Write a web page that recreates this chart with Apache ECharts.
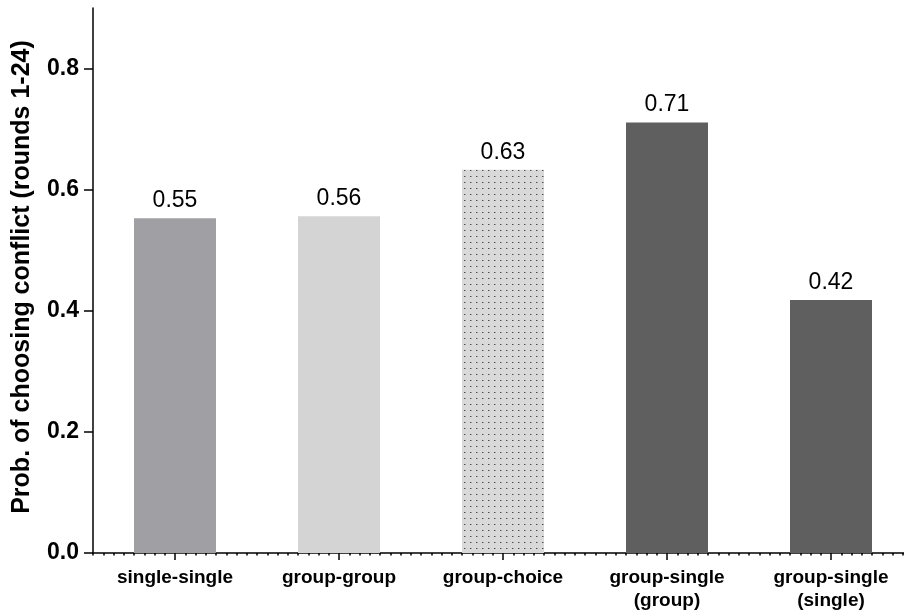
<!DOCTYPE html>
<html><head><meta charset="utf-8">
<script src="https://cdn.jsdelivr.net/npm/echarts@6/dist/echarts.min.js"></script>
<style>html,body{margin:0;padding:0;background:#fff;overflow:hidden}#c{width:914px;height:613px}</style>
</head><body><div id="c"></div>
<script>
const categories = ['single-single', 'group-group', 'group-choice', 'group-single\n(group)', 'group-single\n(single)'];
const values = [0.553, 0.556, 0.633, 0.711, 0.418];
const yTicks = [0, 0.2, 0.4, 0.6, 0.8];
const yAxisTitle = 'Prob. of choosing conflict (rounds 1-24)';

const pc = document.createElement('canvas');
pc.width = 6; pc.height = 6;
const g = pc.getContext('2d');
g.fillStyle = '#d9d9d9'; g.fillRect(0, 0, 6, 6);
g.fillStyle = '#4a4a4a'; g.fillRect(2, 2, 1, 1);
g.fillStyle = '#9a9a9a'; g.fillRect(3, 2, 1, 1);

const colors = ['#a09fa4', '#d4d4d4', {image: pc, repeat: 'repeat'}, '#5f5f5f', '#5f5f5f'];
const FONT = '"Liberation Sans", Arial, sans-serif';

const chart = echarts.init(document.getElementById('c'), null, {renderer: 'canvas'});
chart.setOption({
  animation: false,
  grid: {left: 93, right: 1, top: 8, bottom: 60, containLabel: false},
  xAxis: [{
    type: 'category', data: categories,
    axisLine: {show: true, lineStyle: {color: '#000', width: 1.5}},
    axisTick: {show: true, alignWithLabel: true, length: 7, lineStyle: {color: '#000', width: 1.5}},
    axisLabel: {color: '#000', fontFamily: FONT, fontWeight: 'bold', fontSize: 19, lineHeight: 23, margin: 13, interval: 0}
  }, {
    type: 'value', min: 0, max: 80, interval: 1, position: 'bottom',
    axisLine: {show: false}, splitLine: {show: false}, axisLabel: {show: false},
    axisTick: {show: true, length: 2.5, lineStyle: {color: '#000', width: 1.5}}
  }],
  yAxis: {
    type: 'value', min: 0, max: 0.9,
    name: yAxisTitle, nameLocation: 'middle', nameGap: 58,
    nameTextStyle: {color: '#000', fontFamily: FONT, fontWeight: 'bold', fontSize: 25, padding: [0, 0, 0, 7]},
    axisLine: {show: true, lineStyle: {color: '#000', width: 1.5}},
    axisTick: {show: true, length: 9, customValues: yTicks, lineStyle: {color: '#000', width: 1.5}},
    axisLabel: {customValues: yTicks, formatter: v => v.toFixed(1), color: '#000', fontFamily: FONT, fontWeight: 'bold', fontSize: 23, margin: 14},
    splitLine: {show: false}
  },
  series: [{
    type: 'bar', xAxisIndex: 0, barWidth: '50%',
    data: values.map((v, i) => ({value: v, itemStyle: {color: colors[i]}})),
    label: {show: true, position: 'top', distance: 6, formatter: p => p.value.toFixed(2), color: '#000', fontFamily: FONT, fontSize: 23}
  }]
});
</script></body></html>
